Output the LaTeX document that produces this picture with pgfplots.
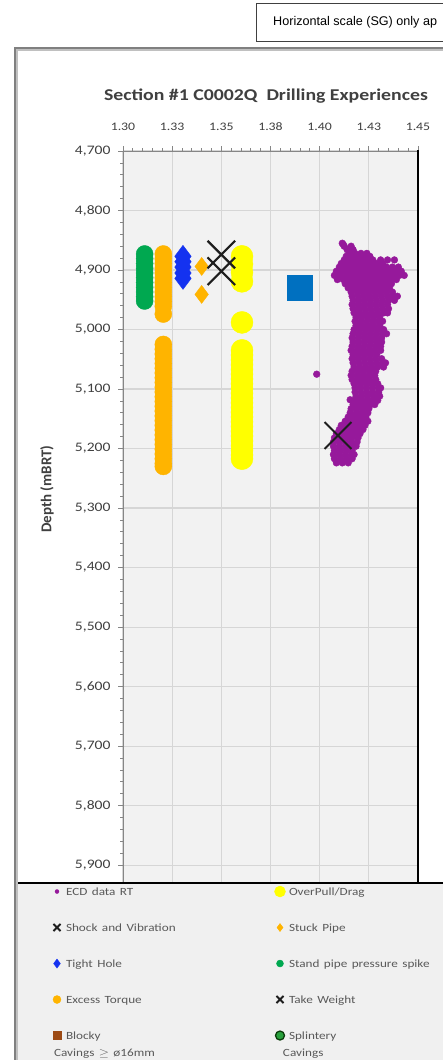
\documentclass[border=0pt]{standalone}
\usepackage{pgfplots}
\pgfplotsset{compat=1.18}
\usepackage{graphicx}
\usepackage{fontspec}
\setmainfont{Carlito}
\newfontfamily\arialf{Liberation Sans}
\newcommand{\hs}[1]{\scalebox{1.2}[1]{#1}}
\definecolor{ecoP}{RGB}{150,25,155}
\definecolor{ovY}{RGB}{255,255,0}
\definecolor{torqO}{RGB}{255,180,0}
\definecolor{tightB}{RGB}{20,50,240}
\definecolor{sppG}{RGB}{0,168,80}
\definecolor{sqB}{RGB}{0,112,192}
\definecolor{xc}{RGB}{30,30,30}
\definecolor{blockyBr}{RGB}{156,74,20}
\definecolor{splG}{RGB}{40,160,60}
\definecolor{splD}{RGB}{10,60,10}
\definecolor{plotbg}{RGB}{242,242,242}
\definecolor{gridc}{RGB}{214,214,214}
\definecolor{axisc}{RGB}{134,134,134}
\definecolor{labc}{RGB}{64,64,64}
\definecolor{legtext}{RGB}{89,89,89}
\definecolor{legbg}{RGB}{240,240,240}
\definecolor{framec}{RGB}{128,128,128}
\begin{document}
\begin{tikzpicture}
\fill[white] (0pt,0pt) rectangle (442pt,-1060pt);
\fill[legbg] (15pt,-883pt) rectangle (470pt,-1080pt);
\begin{axis}[
  at={(123pt,-883pt)}, anchor=south west,
  scale only axis, width=295pt, height=732pt,
  xmin=1.30, xmax=1.45, ymin=4700, ymax=5930, y dir=reverse,
  xtick={1.3,1.325,1.35,1.375,1.4,1.425,1.45},
  xticklabels={\hs{1.30},\hs{1.33},\hs{1.35},\hs{1.38},\hs{1.40},\hs{1.43},\hs{1.45}},
  ytick={4700,4800,4900,5000,5100,5200,5300,5400,5500,5600,5700,5800,5900},
  yticklabel={\hs{\pgfmathprintnumber{\tick}}},
  /pgf/number format/1000 sep={,},
  /pgf/number format/assume math mode=true,
  minor x tick num=4, minor y tick num=4,
  tick align=outside, major tick length=5pt, minor tick length=3pt,
  xtick pos=upper, ytick pos=left,
  xticklabel pos=upper,
  grid=major, major grid style={color=gridc, line width=1.2pt},
  axis background/.style={fill=plotbg},
  axis line style={color=axisc, line width=1pt},
  tick style={color=axisc, line width=0.8pt},
  xticklabel style={font=\fontsize{11.5}{13}\selectfont, text=labc, yshift=12pt},
  yticklabel style={font=\fontsize{13}{15}\selectfont, text=labc, xshift=-4pt},
  legend columns=2,
  legend style={at={(-0.24407,-0.00273)}, anchor=north west, draw=none, fill=none,
    inner sep=0pt, outer sep=0pt, row sep=21pt,
    cells={anchor=base west},
    nodes={text width=200pt, align=left, inner sep=0pt, font=\fontsize{11}{17}\selectfont, text=legtext},
    /tikz/every odd column/.style={column sep=3pt},
    /tikz/every even column/.style={column sep=8pt}},
  legend image code/.code={\path[draw=none,fill=none] (-6pt,-5pt) rectangle (6pt,10pt); \draw[#1] plot coordinates {(0pt,3.5pt)};},
]
% Stand pipe pressure spike
\addplot[only marks, mark=*, mark size=8.5pt, color=sppG, forget plot] coordinates {
(1.311,4873) (1.311,4881) (1.311,4889) (1.311,4897) (1.311,4905) (1.311,4913)
(1.311,4921) (1.311,4929) (1.311,4937) (1.311,4945) (1.311,4952)};
% Excess torque
\addplot[only marks, mark=*, mark size=8.5pt, color=torqO, forget plot] coordinates {
(1.3205,4873) (1.3205,4881) (1.3205,4889) (1.3205,4897) (1.3205,4905) (1.3205,4913)
(1.3205,4921) (1.3205,4929) (1.3205,4937) (1.3205,4945) (1.3205,4953) (1.3205,4961) (1.3205,4974)
(1.3205,5025) (1.3205,5033) (1.3205,5041) (1.3205,5049) (1.3205,5057) (1.3205,5065)
(1.3205,5073) (1.3205,5081) (1.3205,5089) (1.3205,5097) (1.3205,5105) (1.3205,5113)
(1.3205,5121) (1.3205,5129) (1.3205,5137) (1.3205,5145) (1.3205,5153) (1.3205,5161)
(1.3205,5169) (1.3205,5177) (1.3205,5185) (1.3205,5193) (1.3205,5201) (1.3205,5209)
(1.3205,5217) (1.3205,5225) (1.3205,5230)};
% Tight hole
\addplot[only marks, mark=diamond*, mark size=11pt, color=tightB, forget plot] coordinates {
(1.3305,4877) (1.3305,4886) (1.3305,4895) (1.3305,4905) (1.3305,4914)};
% Stuck pipe
\addplot[only marks, mark=diamond*, mark size=9pt, color=torqO, forget plot] coordinates {
(1.340,4894) (1.340,4941)};
% OverPull/Drag
\addplot[only marks, mark=*, mark size=11pt, color=ovY, forget plot] coordinates {
(1.3605,4877) (1.3605,4890) (1.3605,4904) (1.3605,4919) (1.3605,4988)
(1.3605,5035) (1.3605,5043) (1.3605,5051) (1.3605,5059) (1.3605,5067) (1.3605,5075)
(1.3605,5083) (1.3605,5091) (1.3605,5099) (1.3605,5107) (1.3605,5115) (1.3605,5123)
(1.3605,5131) (1.3605,5139) (1.3605,5147) (1.3605,5155) (1.3605,5163) (1.3605,5171)
(1.3605,5179) (1.3605,5187) (1.3605,5195) (1.3605,5203) (1.3605,5211) (1.3605,5217)};
% blue square
\addplot[only marks, mark=square*, mark size=12.5pt, color=sqB, forget plot] coordinates {(1.390,4929)};
% ECD data RT
\addplot[only marks, mark=*, mark size=3.4pt, color=ecoP, forget plot] coordinates {
(1.4120,4857) (1.4115,4855) (1.4125,4860) (1.4160,4860) (1.4140,4866) (1.4170,4866)
(1.4150,4872) (1.4180,4872) (1.4210,4872) (1.4240,4872)
(1.4135,4877) (1.4165,4877) (1.4195,4877) (1.4225,4877) (1.4255,4877)
(1.4125,4883) (1.4155,4883) (1.4185,4883) (1.4215,4883) (1.4245,4883) (1.4270,4883) (1.4310,4883) (1.4345,4883) (1.4380,4883)
(1.4110,4889) (1.4140,4889) (1.4170,4889) (1.4200,4889) (1.4230,4889) (1.4260,4889) (1.4290,4889) (1.4320,4889)
(1.4100,4895) (1.4130,4895) (1.4160,4895) (1.4190,4895) (1.4220,4895) (1.4250,4895) (1.4280,4895) (1.4310,4895) (1.4340,4895) (1.4370,4895) (1.4400,4895)
(1.4085,4902) (1.4115,4902) (1.4145,4902) (1.4175,4902) (1.4205,4902) (1.4235,4902) (1.4265,4902) (1.4295,4902) (1.4325,4902) (1.4355,4902) (1.4385,4902) (1.4415,4902)
(1.4075,4909) (1.4105,4909) (1.4135,4909) (1.4165,4909) (1.4195,4909) (1.4225,4909) (1.4255,4909) (1.4285,4909) (1.4315,4909) (1.4345,4909) (1.4375,4909) (1.4405,4909) (1.4430,4909)
(1.4090,4916) (1.4120,4916) (1.4150,4916) (1.4180,4916) (1.4210,4916) (1.4240,4916) (1.4270,4916) (1.4300,4916) (1.4330,4916) (1.4360,4916) (1.4390,4916)
(1.4130,4923) (1.4160,4923) (1.4190,4923) (1.4220,4923) (1.4250,4923) (1.4280,4923) (1.4310,4923) (1.4340,4923) (1.4365,4923)
(1.4145,4930) (1.4175,4930) (1.4205,4930) (1.4235,4930) (1.4265,4930) (1.4295,4930) (1.4325,4930) (1.4355,4930)
(1.4160,4937) (1.4190,4937) (1.4220,4937) (1.4250,4937) (1.4280,4937) (1.4310,4937) (1.4340,4937) (1.4370,4937)
(1.4165,4944) (1.4195,4944) (1.4225,4944) (1.4255,4944) (1.4285,4944) (1.4315,4944) (1.4345,4944) (1.4375,4944) (1.4395,4944)
(1.4170,4951) (1.4200,4951) (1.4230,4951) (1.4260,4951) (1.4290,4951) (1.4320,4951) (1.4350,4951) (1.4380,4951)
(1.4165,4958) (1.4195,4958) (1.4225,4958) (1.4255,4958) (1.4285,4958) (1.4315,4958) (1.4345,4958)
(1.4170,4965) (1.4200,4965) (1.4230,4965) (1.4260,4965) (1.4290,4965) (1.4320,4965) (1.4350,4965)
(1.4175,4972) (1.4205,4972) (1.4235,4972) (1.4265,4972) (1.4295,4972) (1.4325,4972) (1.4345,4972)
(1.4185,4979) (1.4215,4979) (1.4245,4979) (1.4275,4979) (1.4305,4979)
(1.4180,4986) (1.4210,4986) (1.4240,4986) (1.4270,4986) (1.4300,4986) (1.4320,4986)
(1.4185,4993) (1.4215,4993) (1.4245,4993) (1.4275,4993) (1.4305,4993)
(1.4175,5000) (1.4205,5000) (1.4235,5000) (1.4265,5000) (1.4295,5000) (1.4325,5000)
(1.4170,5007) (1.4200,5007) (1.4230,5007) (1.4260,5007) (1.4290,5007) (1.4320,5007) (1.4340,5007)
(1.4165,5014) (1.4195,5014) (1.4225,5014) (1.4255,5014) (1.4285,5014) (1.4315,5014)
(1.4170,5021) (1.4200,5021) (1.4230,5021) (1.4260,5021) (1.4290,5021) (1.4315,5021)
(1.4165,5028) (1.4195,5028) (1.4225,5028) (1.4255,5028) (1.4285,5028) (1.4310,5028)
(1.4160,5035) (1.4190,5035) (1.4220,5035) (1.4250,5035) (1.4280,5035) (1.4310,5035)
(1.4170,5042) (1.4200,5042) (1.4230,5042) (1.4260,5042) (1.4290,5042)
(1.4165,5049) (1.4195,5049) (1.4225,5049) (1.4255,5049) (1.4285,5049) (1.4315,5049)
(1.4170,5056) (1.4200,5056) (1.4230,5056) (1.4260,5056) (1.4290,5056) (1.4320,5056) (1.4335,5056)
(1.4175,5063) (1.4205,5063) (1.4235,5063) (1.4265,5063) (1.4295,5063) (1.4325,5063)
(1.4165,5070) (1.4195,5070) (1.4225,5070) (1.4255,5070) (1.4285,5070)
(1.4160,5077) (1.4190,5077) (1.4220,5077) (1.4250,5077) (1.4280,5077)
(1.4165,5084) (1.4195,5084) (1.4225,5084) (1.4255,5084) (1.4285,5084)
(1.4175,5091) (1.4205,5091) (1.4235,5091) (1.4265,5091) (1.4295,5091)
(1.4180,5098) (1.4210,5098) (1.4240,5098) (1.4270,5098) (1.4300,5098) (1.4310,5098)
(1.4180,5105) (1.4210,5105) (1.4240,5105) (1.4270,5105) (1.4300,5105)
(1.4185,5112) (1.4215,5112) (1.4245,5112) (1.4275,5112) (1.4305,5112)
(1.4180,5119) (1.4210,5119) (1.4240,5119) (1.4270,5119) (1.4295,5119)
(1.4170,5126) (1.4200,5126) (1.4230,5126) (1.4260,5126) (1.4280,5126)
(1.4160,5133) (1.4190,5133) (1.4220,5133) (1.4250,5133)
(1.4155,5140) (1.4185,5140) (1.4215,5140) (1.4245,5140)
(1.4145,5147) (1.4175,5147) (1.4205,5147) (1.4235,5147)
(1.4130,5154) (1.4160,5154) (1.4190,5154) (1.4220,5154) (1.4245,5154)
(1.4110,5161) (1.4140,5161) (1.4170,5161) (1.4200,5161) (1.4230,5161)
(1.4100,5168) (1.4130,5168) (1.4160,5168) (1.4190,5168) (1.4220,5168)
(1.4085,5175) (1.4115,5175) (1.4145,5175) (1.4175,5175) (1.4205,5175)
(1.4075,5182) (1.4105,5182) (1.4135,5182) (1.4165,5182) (1.4195,5182)
(1.4070,5189) (1.4100,5189) (1.4130,5189) (1.4160,5189) (1.4190,5189)
(1.4070,5196) (1.4100,5196) (1.4130,5196) (1.4160,5196) (1.4185,5196)
(1.4075,5203) (1.4105,5203) (1.4135,5203) (1.4165,5203)
(1.4070,5210) (1.4100,5210) (1.4130,5210) (1.4160,5210) (1.4175,5210)
(1.4075,5217) (1.4105,5217) (1.4135,5217) (1.4165,5217)
(1.4085,5224) (1.4115,5224) (1.4145,5224)
(1.3985,5075) (1.4155,5118)};
% Shock and vibration / take weight
\addplot[only marks, mark=x, mark size=19.5pt, mark options={line width=2.2pt}, color=xc, forget plot] coordinates {
(1.350,4874) (1.350,4902)};
\addplot[only marks, mark=x, mark size=19pt, mark options={line width=2pt}, color=xc, forget plot] coordinates {
(1.4093,5178)};
% legend
\addlegendimage{only marks, mark=*, mark size=2pt, color=ecoP}
\addlegendentry{\hs{ECD data RT}}
\addlegendimage{only marks, mark=*, mark size=5.5pt, color=ovY}
\addlegendentry{\hs{OverPull/Drag}}
\addlegendimage{only marks, mark=x, mark size=5pt, mark options={line width=2pt}, color=xc}
\addlegendentry{\hs{Shock and Vibration}}
\addlegendimage{only marks, mark=diamond*, mark size=4pt, color=torqO}
\addlegendentry{\hs{Stuck Pipe}}
\addlegendimage{only marks, mark=diamond*, mark size=4.5pt, color=tightB}
\addlegendentry{\hs{Tight Hole}}
\addlegendimage{only marks, mark=*, mark size=3.5pt, color=sppG}
\addlegendentry{\hs{Stand pipe pressure spike}}
\addlegendimage{only marks, mark=*, mark size=4pt, color=torqO}
\addlegendentry{\hs{Excess Torque}}
\addlegendimage{only marks, mark=x, mark size=5pt, mark options={line width=2pt}, color=xc}
\addlegendentry{\hs{Take Weight}}
\addlegendimage{only marks, mark=square*, mark size=4pt, color=blockyBr}
\addlegendentry{\hs{Blocky}\\\hspace*{-12pt}\hs{Cavings $\geq$ ø16mm}}
\addlegendimage{only marks, mark=*, mark size=4.5pt, mark options={fill=splG, draw=splD, line width=1.3pt}}
\addlegendentry{\hs{Splintery}\\\hspace*{-6pt}\hs{Cavings}}
\end{axis}
\draw[black, line width=1.5pt] (418pt,-150pt) -- (418pt,-883pt);
\draw[black, line width=1.2pt] (15pt,-883pt) -- (470pt,-883pt);
\draw[framec!50, line width=1.5pt] (16.8pt,-1080pt) -- (16.8pt,-49.8pt) -- (470pt,-49.8pt);
\draw[framec, line width=1.3pt] (15pt,-1080pt) -- (15pt,-48pt) -- (470pt,-48pt);
\draw[draw=labc, line width=0.8pt, fill=white] (256pt,-3pt) rectangle (470pt,-41pt);
\node[anchor=base west, inner sep=0pt] at (273pt,-25pt) {\arialf\fontsize{12.6}{15}\selectfont Horizontal scale (SG) only ap};
\node[text=labc] at (266pt,-96pt) {\hs{\fontsize{16.5}{19}\selectfont\bfseries Section \#1 C0002Q\ \ Drilling Experiences}};
\node[rotate=90, text=labc] at (47pt,-489pt) {\fontsize{15}{17}\selectfont\bfseries Depth (mBRT)};
\pgfresetboundingbox
\useasboundingbox (0pt,0pt) rectangle (442pt,-1060pt);
\end{tikzpicture}
\end{document}
